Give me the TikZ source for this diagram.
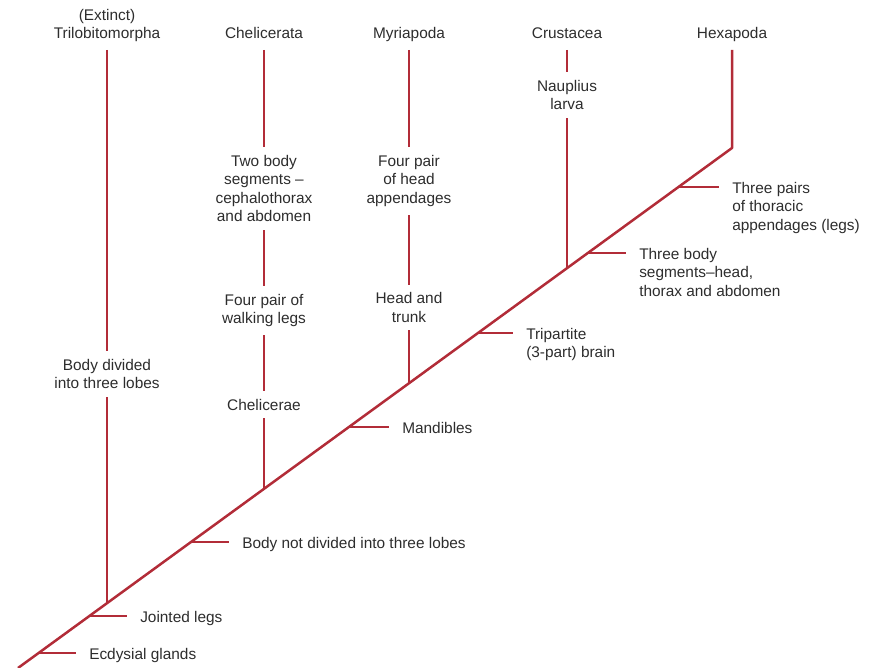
\documentclass[tikz,border=0pt]{standalone}
\usepackage{fontspec}
\setmainfont{Liberation Sans}
\usepackage{xcolor}
\usepackage{tikz}
\usetikzlibrary{arrows,calc,positioning}
\definecolor{cladered}{RGB}{178,44,56}
\definecolor{labelgray}{RGB}{45,45,45}

\begin{document}
\begin{tikzpicture}[-,
    x=1pt,
    y=-1pt,
    line width=2.5pt,
    text=labelgray,
    font=\fontsize{15.4}{18.5}\selectfont]
  \tikzstyle{taxon}=[inner sep=0pt,text depth=0pt,anchor=south,align=center]
  \tikzstyle{trait}=[inner sep=8pt,fill=white,align=center]
  \tikzstyle{tick}=[inner sep=0pt,anchor=north west,align=left]
  \tikzstyle{branch}=[draw=cladered,line join=round]

  \useasboundingbox (0,0) rectangle (870,668);

  % taxa along the top
  \node[taxon] (tri) at (107,40) {(Extinct)\\Trilobitomorpha};
  \node[taxon] (che) at (264,40) {Chelicerata};
  \node[taxon] (myr) at (409,40) {Myriapoda};
  \node[taxon] (cru) at (567,40) {Crustacea};
  \node[taxon] (hex) at (732,40) {Hexapoda};

  % main stem
  \coordinate (root) at (18,668);
  \coordinate (top)  at (732,148);

  % where the taxa leave the stem
  \coordinate (btri) at (107,603.2);
  \coordinate (bche) at (264,488.8);
  \coordinate (bmyr) at (409,383.2);
  \coordinate (bcru) at (567,268.2);

  % points for the shared characters
  \coordinate (d1) at (38.6,653);
  \coordinate (d2) at (89.4,616);
  \coordinate (d3) at (191,542);
  \coordinate (d4) at (348.9,427);
  \coordinate (d5) at (478,333);
  \coordinate (d6) at (587.8,253);
  \coordinate (d7) at (678.5,187);

  \draw[branch,shorten <=10pt] (hex) -- (top) -- (root);
  \path[branch] (tri) edge[shorten <=10pt] (btri)
                (che) edge[shorten <=10pt] (bche)
                (myr) edge[shorten <=10pt] (bmyr)
                (cru) edge[shorten <=10pt] (bcru);

  % labels on the side branches
  \node[tick] (ecd) at (88,647)  {Ecdysial glands};
  \node[tick] (jnt) at (139,610) {Jointed legs};
  \node[tick] (bnd) at (241,536) {Body not divided into three lobes};
  \node[tick] (man) at (401,421) {Mandibles};
  \node[tick] (trb) at (525,327) {Tripartite\\(3-part) brain};
  \node[tick] (tbs) at (638,247) {Three body\\segments--head,\\thorax and abdomen};
  \node[tick] (tpl) at (731,181) {Three pairs\\of thoracic\\appendages (legs)};

  \path[branch] (d1) edge[shorten >=12pt] (d1 -| ecd.west)
                (d2) edge[shorten >=12pt] (d2 -| jnt.west)
                (d3) edge[shorten >=12pt] (d3 -| bnd.west)
                (d4) edge[shorten >=12pt] (d4 -| man.west)
                (d5) edge[shorten >=12pt] (d5 -| trb.west)
                (d6) edge[shorten >=12pt] (d6 -| tbs.west)
                (d7) edge[shorten >=12pt] (d7 -| tpl.west);

  % labels sitting on the vertical branches
  \node[trait] (bdl) at (107,374)   {Body divided\\into three lobes};
  \node[trait] (tws) at (264,188.5) {Two body\\segments --\\cephalothorax\\and abdomen};
  \node[trait] (fpw) at (264,310.5) {Four pair of\\walking legs};
  \node[trait] (chl) at (264,404.5) {Chelicerae};
  \node[trait] (fph) at (409,181)   {Four pair\\of head\\appendages};
  \node[trait] (hat) at (409,307.5) {Head and\\trunk};
  \node[trait] (nau) at (567,95)    {Nauplius\\larva};
\end{tikzpicture}
\end{document}
